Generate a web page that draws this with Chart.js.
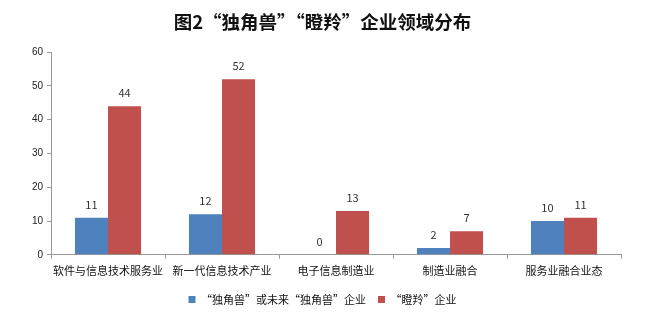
<!DOCTYPE html>
<html>
<head>
<meta charset="utf-8">
<script src="https://cdn.jsdelivr.net/npm/chart.js@4/dist/chart.umd.min.js"></script>
<style>
  html, body { margin: 0; padding: 0; background: #fff; }
  #wrap { width: 645px; height: 321px; }
</style>
</head>
<body>
<div id="wrap"><canvas id="c" width="645" height="321"></canvas></div>
<script>
  var CATEGORIES = ['软件与信息技术服务业', '新一代信息技术产业', '电子信息制造业', '制造业融合', '服务业融合业态'];
  var UNICORN = [11, 12, 0, 2, 10];
  var GAZELLE = [44, 52, 13, 7, 11];
  var SERIES_NAMES = ['“独角兽”或未来“独角兽”企业', '“瞪羚”企业'];
  var TITLE = '图2“独角兽”“瞪羚”企业领域分布';

  var FONT = '"Noto Sans CJK SC", "Liberation Sans", sans-serif';

  var valueLabels = {
    id: 'valueLabels',
    afterDatasetsDraw: function (chart) {
      var ctx = chart.ctx;
      ctx.save();
      ctx.font = '11px ' + FONT;
      ctx.fillStyle = '#333';
      ctx.textAlign = 'center';
      ctx.textBaseline = 'middle';
      chart.data.datasets.forEach(function (ds, i) {
        chart.getDatasetMeta(i).data.forEach(function (bar, j) {
          ctx.fillText(String(ds.data[j]), bar.x, bar.y - 13);
        });
      });
      ctx.restore();
    }
  };

  new Chart(document.getElementById('c'), {
    type: 'bar',
    data: {
      labels: CATEGORIES,
      datasets: [
        {label: SERIES_NAMES[0], data: UNICORN, backgroundColor: '#4F81BD'},
        {label: SERIES_NAMES[1], data: GAZELLE, backgroundColor: '#C0504D'}
      ]
    },
    options: {
      responsive: false,
      animation: false,
      devicePixelRatio: 1,
      layout: {padding: {left: 24, right: 24, top: 7, bottom: 6}},
      datasets: {bar: {categoryPercentage: 0.58, barPercentage: 1}},
      plugins: {
        title: {
          display: true,
          text: TITLE,
          color: '#111',
          font: {family: FONT, size: 18.5, weight: 'bold'},
          padding: {top: 4, bottom: 19}
        },
        legend: {
          position: 'bottom',
          labels: {
            boxWidth: 7, boxHeight: 7, padding: 12,
            color: '#111',
            font: {family: FONT, size: 11}
          }
        },
        tooltip: {enabled: false}
      },
      scales: {
        x: {
          grid: {drawOnChartArea: false, tickLength: 4, color: '#999'},
          border: {color: '#999'},
          ticks: {color: '#111', font: {family: FONT, size: 11}, maxRotation: 0, autoSkip: false, padding: 5}
        },
        y: {
          min: 0, max: 60,
          grid: {drawOnChartArea: false, tickLength: 4, color: '#999'},
          border: {color: '#999'},
          ticks: {stepSize: 10, color: '#222', font: {family: '"Liberation Sans", sans-serif', size: 10}, padding: 4},
          afterFit: function (scale) { scale.width = 27; }
        }
      }
    },
    plugins: [valueLabels]
  });
</script>
</body>
</html>
